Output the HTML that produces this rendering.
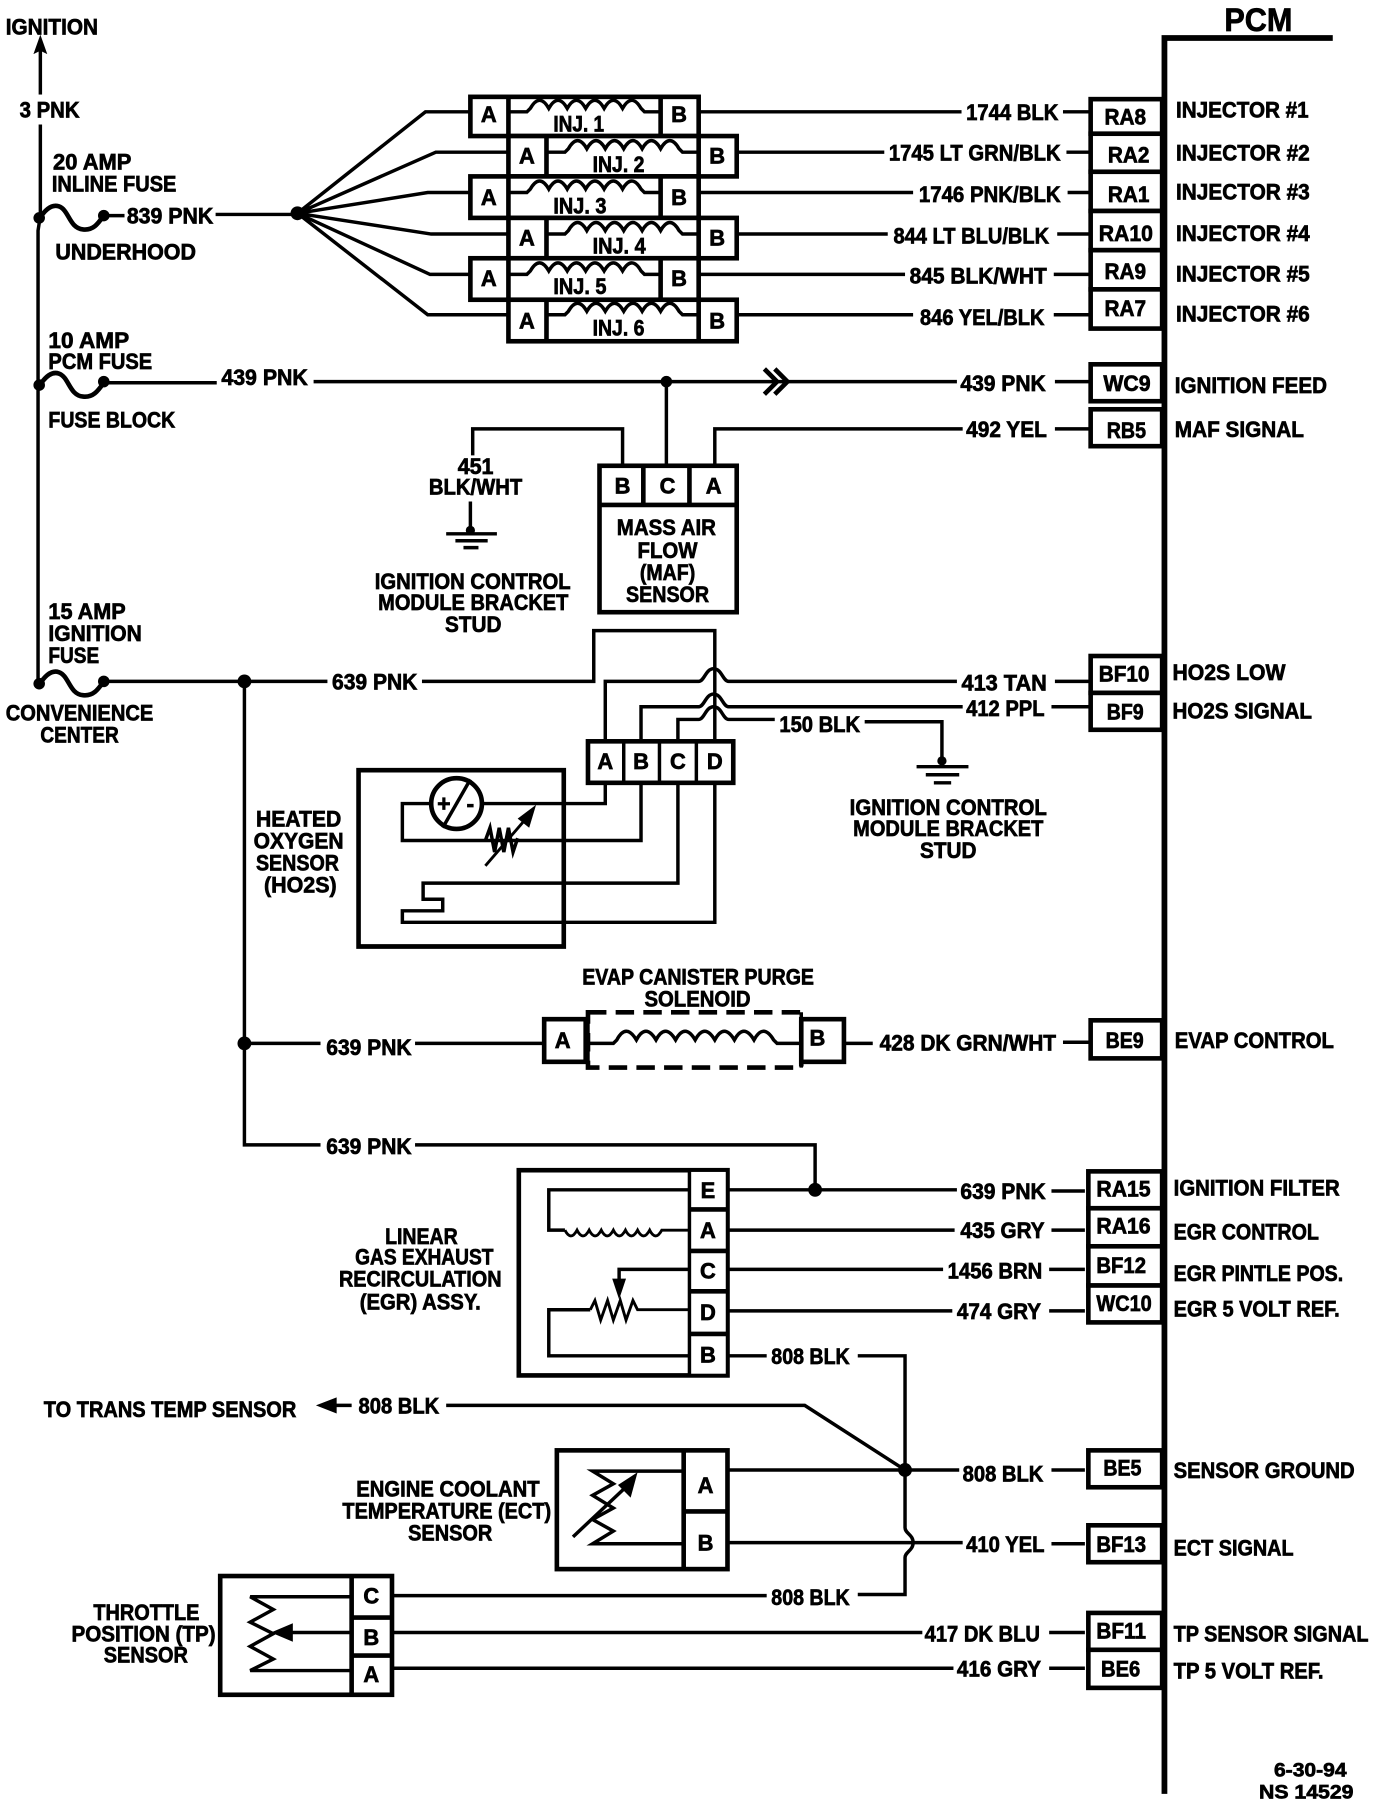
<!DOCTYPE html>
<html><head><meta charset="utf-8"><style>
html,body{margin:0;padding:0;background:#fff}
svg{display:block;width:1376px;height:1808px}
text{font-family:"Liberation Sans",sans-serif;font-weight:700;font-size:19px;fill:#000;stroke:#000;stroke-width:.6}
.m{text-anchor:middle}
.w{fill:none;stroke:#000;stroke-width:3}
.b{fill:#fff;stroke:#000;stroke-width:4}
.t{fill:none;stroke:#000;stroke-width:5}
.d{fill:#000;stroke:none}
</style></head><body>
<svg xmlns="http://www.w3.org/2000/svg" viewBox="0 0 1193.5 1568.2" preserveAspectRatio="none">
<defs>
<path id="coil" class="w" d="M0,0 h15 l3,-3 q8,-14 16,0 q8,-14 16,0 q8,-14 16,0 q8,-14 16,0 q8,-14 16,0 q8,-14 16,0 l3,3 h15"/>
<path id="fuse" class="w" style="stroke-width:4" d="M0,0 c5,-8 11,-13 17,-11 c9,3 9,19 21,20 c9,1 13,-5 18,-12"/>
</defs>

<!-- PCM bus -->
<path class="t" d="M1156,33 H1010 V1556"/>
<text x="1062" y="27" textLength="59" lengthAdjust="spacingAndGlyphs" style="font-size:28px">PCM</text>

<!-- Ignition and left bus -->
<path class="w" d="M35,82 V40"/>
<path class="d" d="M35,30 l6,17 l-6,-3 l-6,3z"/>
<text x="5" y="30" textLength="80" lengthAdjust="spacingAndGlyphs">IGNITION</text>
<text x="17" y="102" textLength="52" lengthAdjust="spacingAndGlyphs">3 PNK</text>
<path class="w" d="M35,108 V187 L33,200 V591"/>
<text x="46" y="147" textLength="68" lengthAdjust="spacingAndGlyphs">20 AMP</text>
<text x="45" y="166" textLength="108" lengthAdjust="spacingAndGlyphs">INLINE FUSE</text>
<use href="#fuse" x="34" y="190"/><circle class="d" cx="34" cy="189" r="5"/><circle class="d" cx="90" cy="187" r="5"/>
<path class="w" d="M90,187 H108"/>
<text x="110" y="194" textLength="75" lengthAdjust="spacingAndGlyphs">839 PNK</text>
<path class="w" d="M187,186 H258"/>
<circle class="d" cx="258" cy="185" r="6"/>
<text x="48" y="225" textLength="122" lengthAdjust="spacingAndGlyphs">UNDERHOOD</text>

<!-- fan -->
<path class="w" d="M258,185 L369,97 H408 M258,185 L378,132 H441 M258,185 L371,167 H408 M258,185 L374,203 H441 M258,185 L373,238 H408 M258,185 L371,273 H441"/>

<!-- injectors -->
<g>
<rect class="b" x="408" y="84" width="198" height="34"/><rect class="b" x="441" y="118" width="198" height="35"/>
<rect class="b" x="408" y="153" width="198" height="36"/><rect class="b" x="441" y="189" width="198" height="35"/>
<rect class="b" x="408" y="224" width="198" height="36"/><rect class="b" x="441" y="260" width="198" height="36"/>
<path class="b" d="M441,84 V118 M573,84 V118 M441,153 V189 M573,153 V189 M441,224 V260 M573,224 V260 M474,118 V153 M606,118 V153 M474,189 V224 M606,189 V224 M474,260 V296 M606,260 V296" style="stroke-width:4;fill:none"/>
</g>
<use href="#coil" x="442" y="97"/><use href="#coil" x="475" y="132"/><use href="#coil" x="442" y="167"/><use href="#coil" x="475" y="203"/><use href="#coil" x="442" y="238"/><use href="#coil" x="475" y="273"/>
<g>
<text class="m" x="424" y="106">A</text><text class="m" x="589" y="106">B</text>
<text class="m" x="457" y="142">A</text><text class="m" x="622" y="142">B</text>
<text class="m" x="424" y="178">A</text><text class="m" x="589" y="178">B</text>
<text class="m" x="457" y="213">A</text><text class="m" x="622" y="213">B</text>
<text class="m" x="424" y="248">A</text><text class="m" x="589" y="248">B</text>
<text class="m" x="457" y="285">A</text><text class="m" x="622" y="285">B</text>
<text x="480" y="114" textLength="44" lengthAdjust="spacingAndGlyphs">INJ. 1</text>
<text x="514" y="149" textLength="45" lengthAdjust="spacingAndGlyphs">INJ. 2</text>
<text x="480" y="185" textLength="46" lengthAdjust="spacingAndGlyphs">INJ. 3</text>
<text x="514" y="220" textLength="46" lengthAdjust="spacingAndGlyphs">INJ. 4</text>
<text x="480" y="255" textLength="46" lengthAdjust="spacingAndGlyphs">INJ. 5</text>
<text x="514" y="291" textLength="45" lengthAdjust="spacingAndGlyphs">INJ. 6</text>
</g>

<!-- injector wires -->
<path class="w" d="M607,97 H834 M922,97 H945 M640,132 H767 M925,132 H945 M607,167 H792 M926,167 H945 M640,203 H770 M917,203 H945 M607,238 H785 M914,238 H945 M640,273 H792 M914,273 H945"/>
<text x="838" y="104" textLength="80" lengthAdjust="spacingAndGlyphs">1744 BLK</text>
<text x="771" y="139" textLength="149" lengthAdjust="spacingAndGlyphs">1745 LT GRN/BLK</text>
<text x="797" y="175" textLength="123" lengthAdjust="spacingAndGlyphs">1746 PNK/BLK</text>
<text x="775" y="211" textLength="135" lengthAdjust="spacingAndGlyphs">844 LT BLU/BLK</text>
<text x="789" y="246" textLength="119" lengthAdjust="spacingAndGlyphs">845 BLK/WHT</text>
<text x="798" y="282" textLength="108" lengthAdjust="spacingAndGlyphs">846 YEL/BLK</text>

<!-- PCM boxes -->
<g>
<rect class="b" x="946" y="86" width="62" height="30"/><rect class="b" x="946" y="116" width="62" height="33"/><rect class="b" x="946" y="149" width="62" height="34"/><rect class="b" x="946" y="183" width="62" height="34"/><rect class="b" x="946" y="217" width="62" height="34"/><rect class="b" x="946" y="251" width="62" height="34"/>
<rect class="b" x="946" y="316" width="62" height="32"/><rect class="b" x="946" y="355" width="62" height="32"/>
<rect class="b" x="946" y="569" width="62" height="32"/><rect class="b" x="946" y="601" width="62" height="32"/>
<rect class="b" x="946" y="885" width="62" height="33"/>
<rect class="b" x="944" y="1016" width="64" height="32"/><rect class="b" x="944" y="1048" width="64" height="33"/><rect class="b" x="944" y="1081" width="64" height="34"/><rect class="b" x="944" y="1115" width="64" height="32"/>
<rect class="b" x="944" y="1258" width="64" height="32"/><rect class="b" x="944" y="1323" width="64" height="32"/>
<rect class="b" x="944" y="1399" width="64" height="32"/><rect class="b" x="944" y="1431" width="64" height="33"/>
</g>
<g>
<text x="958" y="108" textLength="36" lengthAdjust="spacingAndGlyphs">RA8</text>
<text x="961" y="141" textLength="36" lengthAdjust="spacingAndGlyphs">RA2</text>
<text x="961" y="175" textLength="36" lengthAdjust="spacingAndGlyphs">RA1</text>
<text x="953" y="209" textLength="47" lengthAdjust="spacingAndGlyphs">RA10</text>
<text x="958" y="242" textLength="36" lengthAdjust="spacingAndGlyphs">RA9</text>
<text x="958" y="274" textLength="36" lengthAdjust="spacingAndGlyphs">RA7</text>
<text x="957" y="339" textLength="41" lengthAdjust="spacingAndGlyphs">WC9</text>
<text x="960" y="380" textLength="34" lengthAdjust="spacingAndGlyphs">RB5</text>
<text x="953" y="591" textLength="44" lengthAdjust="spacingAndGlyphs">BF10</text>
<text x="960" y="624" textLength="32" lengthAdjust="spacingAndGlyphs">BF9</text>
<text x="959" y="909" textLength="33" lengthAdjust="spacingAndGlyphs">BE9</text>
<text x="951" y="1038" textLength="47" lengthAdjust="spacingAndGlyphs">RA15</text>
<text x="951" y="1070" textLength="47" lengthAdjust="spacingAndGlyphs">RA16</text>
<text x="951" y="1104" textLength="43" lengthAdjust="spacingAndGlyphs">BF12</text>
<text x="951" y="1137" textLength="48" lengthAdjust="spacingAndGlyphs">WC10</text>
<text x="957" y="1280" textLength="33" lengthAdjust="spacingAndGlyphs">BE5</text>
<text x="951" y="1346" textLength="43" lengthAdjust="spacingAndGlyphs">BF13</text>
<text x="951" y="1421" textLength="43" lengthAdjust="spacingAndGlyphs">BF11</text>
<text x="955" y="1454" textLength="34" lengthAdjust="spacingAndGlyphs">BE6</text>
</g>

<!-- PCM labels -->
<g>
<text x="1020" y="102" textLength="115" lengthAdjust="spacingAndGlyphs">INJECTOR #1</text>
<text x="1020" y="139" textLength="116" lengthAdjust="spacingAndGlyphs">INJECTOR #2</text>
<text x="1020" y="173" textLength="116" lengthAdjust="spacingAndGlyphs">INJECTOR #3</text>
<text x="1020" y="209" textLength="116" lengthAdjust="spacingAndGlyphs">INJECTOR #4</text>
<text x="1020" y="244" textLength="116" lengthAdjust="spacingAndGlyphs">INJECTOR #5</text>
<text x="1020" y="279" textLength="116" lengthAdjust="spacingAndGlyphs">INJECTOR #6</text>
<text x="1019" y="341" textLength="132" lengthAdjust="spacingAndGlyphs">IGNITION FEED</text>
<text x="1019" y="379" textLength="112" lengthAdjust="spacingAndGlyphs">MAF SIGNAL</text>
<text x="1017" y="590" textLength="98" lengthAdjust="spacingAndGlyphs">HO2S LOW</text>
<text x="1017" y="623" textLength="121" lengthAdjust="spacingAndGlyphs">HO2S SIGNAL</text>
<text x="1019" y="909" textLength="138" lengthAdjust="spacingAndGlyphs">EVAP CONTROL</text>
<text x="1018" y="1037" textLength="144" lengthAdjust="spacingAndGlyphs">IGNITION FILTER</text>
<text x="1018" y="1075" textLength="126" lengthAdjust="spacingAndGlyphs">EGR CONTROL</text>
<text x="1018" y="1111" textLength="147" lengthAdjust="spacingAndGlyphs">EGR PINTLE POS.</text>
<text x="1018" y="1142" textLength="144" lengthAdjust="spacingAndGlyphs">EGR 5 VOLT REF.</text>
<text x="1018" y="1282" textLength="157" lengthAdjust="spacingAndGlyphs">SENSOR GROUND</text>
<text x="1018" y="1349" textLength="104" lengthAdjust="spacingAndGlyphs">ECT SIGNAL</text>
<text x="1018" y="1424" textLength="169" lengthAdjust="spacingAndGlyphs">TP SENSOR SIGNAL</text>
<text x="1018" y="1456" textLength="130" lengthAdjust="spacingAndGlyphs">TP 5 VOLT REF.</text>
<text x="1105" y="1541" textLength="63" lengthAdjust="spacingAndGlyphs" style="font-size:17px">6-30-94</text>
<text x="1092" y="1560" textLength="82" lengthAdjust="spacingAndGlyphs" style="font-size:17px">NS 14529</text>
</g>

<!-- 439 PNK -->
<text x="42" y="302" textLength="70" lengthAdjust="spacingAndGlyphs">10 AMP</text>
<text x="42" y="320" textLength="90" lengthAdjust="spacingAndGlyphs">PCM FUSE</text>
<use href="#fuse" x="34" y="335"/><circle class="d" cx="34" cy="334" r="5"/><circle class="d" cx="90" cy="331" r="5"/>
<path class="w" d="M90,332 H188 M272,331 H830 M915,331 H945"/>
<text x="192" y="334" textLength="75" lengthAdjust="spacingAndGlyphs">439 PNK</text>
<text x="833" y="339" textLength="74" lengthAdjust="spacingAndGlyphs">439 PNK</text>
<text x="42" y="371" textLength="110" lengthAdjust="spacingAndGlyphs">FUSE BLOCK</text>
<circle class="d" cx="578" cy="331" r="5"/>
<path class="w" style="stroke-width:4" d="M663,320 L674,331 L663,342 M672,320 L683,331 L672,342"/>

<!-- MAF -->
<text x="838" y="379" textLength="70" lengthAdjust="spacingAndGlyphs">492 YEL</text>
<path class="w" d="M578,331 V402 M620,402 V372 H835 M915,372 H945 M540,402 V372 H410 V395"/>
<rect class="b" x="520" y="404" width="119" height="127"/>
<path class="w" style="stroke-width:4" d="M520,438 H639 M558,404 V438 M598,404 V438"/>
<text class="m" x="540" y="428">B</text><text class="m" x="579" y="428">C</text><text class="m" x="619" y="428">A</text>
<text class="m" x="578" y="464" textLength="86" lengthAdjust="spacingAndGlyphs">MASS AIR</text>
<text class="m" x="579" y="484" textLength="52" lengthAdjust="spacingAndGlyphs">FLOW</text>
<text class="m" x="579" y="503" textLength="48" lengthAdjust="spacingAndGlyphs">(MAF)</text>
<text class="m" x="579" y="522" textLength="72" lengthAdjust="spacingAndGlyphs">SENSOR</text>
<text x="397" y="411" textLength="31" lengthAdjust="spacingAndGlyphs">451</text>
<text x="372" y="429" textLength="81" lengthAdjust="spacingAndGlyphs">BLK/WHT</text>
<path class="w" d="M408,435 V459 M387,463 H431 M395,469 H423 M402,475 H415"/>
<circle class="d" cx="408" cy="460" r="4"/>
<text x="325" y="511" textLength="170" lengthAdjust="spacingAndGlyphs">IGNITION CONTROL</text>
<text x="328" y="529" textLength="165" lengthAdjust="spacingAndGlyphs">MODULE BRACKET</text>
<text x="386" y="548" textLength="49" lengthAdjust="spacingAndGlyphs">STUD</text>

<!-- 639 PNK / HO2S -->
<text x="42" y="537" textLength="67" lengthAdjust="spacingAndGlyphs">15 AMP</text>
<text x="42" y="556" textLength="81" lengthAdjust="spacingAndGlyphs">IGNITION</text>
<text x="42" y="575" textLength="44" lengthAdjust="spacingAndGlyphs">FUSE</text>
<use href="#fuse" x="34" y="594"/><circle class="d" cx="34" cy="593" r="5"/><circle class="d" cx="90" cy="591" r="5"/>
<text x="5" y="625" textLength="128" lengthAdjust="spacingAndGlyphs">CONVENIENCE</text>
<text x="35" y="644" textLength="68" lengthAdjust="spacingAndGlyphs">CENTER</text>
<path class="w" d="M90,591 H284 M366,591 H515 V547 H620 V641 M212,591 V993 H278 M212,905 H278"/>
<circle class="d" cx="212" cy="591" r="6"/><circle class="d" cx="212" cy="905" r="6"/>
<text x="288" y="598" textLength="74" lengthAdjust="spacingAndGlyphs">639 PNK</text>
<path class="w" d="M525,641 V591 H606 c5,0 6,-11 13,-11 c7,0 8,11 13,11 H830 M915,591 H945"/>
<path class="w" d="M556,641 V613 H606 c5,0 6,-11 13,-11 c7,0 8,11 13,11 H835 M912,613 H945"/>
<path class="w" d="M588,641 V624 H606 c5,0 6,-11 13,-11 c7,0 8,11 13,11 H672 M750,626 H817 V658"/>
<text x="834" y="599" textLength="74" lengthAdjust="spacingAndGlyphs">413 TAN</text>
<text x="838" y="621" textLength="68" lengthAdjust="spacingAndGlyphs">412 PPL</text>
<text x="676" y="635" textLength="70" lengthAdjust="spacingAndGlyphs">150 BLK</text>
<circle class="d" cx="817" cy="660" r="4"/>
<path class="w" d="M795,665 H840 M803,672 H832 M810,679 H825"/>
<text x="737" y="707" textLength="171" lengthAdjust="spacingAndGlyphs">IGNITION CONTROL</text>
<text x="740" y="725" textLength="165" lengthAdjust="spacingAndGlyphs">MODULE BRACKET</text>
<text x="798" y="744" textLength="49" lengthAdjust="spacingAndGlyphs">STUD</text>
<rect class="b" x="510" y="643" width="126" height="36"/>
<path class="w" style="stroke-width:3" d="M541,643 V679 M572,643 V679 M604,643 V679"/>
<text class="m" x="525" y="667">A</text><text class="m" x="556" y="667">B</text><text class="m" x="588" y="667">C</text><text class="m" x="620" y="667">D</text>
<path class="t" style="stroke-width:4" d="M311,821 V668 H489 V821 Z"/>
<path class="t" style="stroke-width:2" d="M311,820 H489"/>
<path class="w" d="M419,697 H525 V680 M373,697 H349 V729 H556 V680 M588,680 V766 H367 V780 H384 V790 H349 V800 H620 V680"/>
<circle cx="396" cy="697" r="22" fill="#fff" stroke="#000" stroke-width="4"/>
<path class="w" d="M384,718 L408,676"/>
<text class="m" x="385" y="704" style="font-size:20px">+</text><text class="m" x="408" y="704" style="font-size:20px">-</text>
<path class="w" d="M421,729 l4,-11 l4,21 l4,-21 l4,21 l4,-21 l4,21 l4,-12"/>
<path class="w" style="stroke-width:2.5" d="M421,751 L458,708"/>
<path class="d" d="M465,698 L449,710 L459,718 z"/>
<text x="222" y="717" textLength="74" lengthAdjust="spacingAndGlyphs">HEATED</text>
<text x="220" y="736" textLength="78" lengthAdjust="spacingAndGlyphs">OXYGEN</text>
<text x="222" y="755" textLength="72" lengthAdjust="spacingAndGlyphs">SENSOR</text>
<text x="229" y="774" textLength="63" lengthAdjust="spacingAndGlyphs">(HO2S)</text>

<!-- EVAP -->
<text x="505" y="854" textLength="201" lengthAdjust="spacingAndGlyphs">EVAP CANISTER PURGE</text>
<text x="559" y="873" textLength="92" lengthAdjust="spacingAndGlyphs">SOLENOID</text>
<rect x="510" y="878" width="185" height="48" fill="none" stroke="#000" stroke-width="4" stroke-dasharray="16,8"/>
<path class="w" d="M510,878 V926 M695,878 V926"/>
<path class="w" d="M510,905 h22 l3,-3 q8,-15 17,0 q8,-15 17,0 q8,-15 17,0 q8,-15 17,0 q8,-15 17,0 q8,-15 17,0 q8,-15 17,0 q8,-15 17,0 l3,3 h21"/>
<rect class="b" x="472" y="884" width="36" height="37"/><rect class="b" x="695" y="884" width="37" height="37"/>
<text class="m" x="488" y="909">A</text><text class="m" x="709" y="907">B</text>
<path class="w" d="M360,905 H472 M733,905 H757 M922,904 H945"/>
<text x="283" y="915" textLength="74" lengthAdjust="spacingAndGlyphs">639 PNK</text>
<text x="763" y="911" textLength="153" lengthAdjust="spacingAndGlyphs">428 DK GRN/WHT</text>

<!-- 639 to EGR -->
<text x="283" y="1001" textLength="74" lengthAdjust="spacingAndGlyphs">639 PNK</text>
<path class="w" d="M360,993 H707 V1032"/>
<circle class="d" cx="707" cy="1032" r="6"/>
<rect class="b" x="450" y="1015" width="181" height="178"/>
<rect class="b" x="598" y="1015" width="33" height="178" style="stroke-width:3"/>
<path class="w" style="stroke-width:4" d="M598,1049 H631 M598,1085 H631 M598,1120 H631 M598,1157 H631"/>
<text class="m" x="614" y="1039">E</text><text class="m" x="614" y="1074">A</text><text class="m" x="614" y="1109">C</text><text class="m" x="614" y="1145">D</text><text class="m" x="614" y="1182">B</text>
<path class="w" d="M598,1032 H476 V1067 H490"/>
<path class="w" style="stroke-width:2.5" d="M490,1067 q5,10 10.5,0 q5,10 10.5,0 q5,10 10.5,0 q5,10 10.5,0 q5,10 10.5,0 q5,10 10.5,0 q5,10 10.5,0 q5,10 10.5,0 H598"/>
<path class="w" d="M598,1101 H537 V1118"/>
<path class="d" d="M537,1127 L531,1109 H543 z"/>
<path class="w" d="M598,1176 H476 V1136 H512"/>
<path class="w" style="stroke-width:2.5" d="M512,1136 l4,-8 l5,17 l6,-17 l5,17 l6,-17 l5,17 l6,-17 l4,8 h45"/>
<path class="w" d="M632,1032 H830 M912,1033 H941 M632,1067 H828 M912,1067 H941 M632,1101 H818 M910,1101 H941 M632,1137 H826 M910,1137 H941 M632,1176 H665 M744,1176 H785 V1325 c0,5 7,6 7,13 c0,7 -7,8 -7,13 V1383 H744 M632,1275 H832 M912,1275 H941 M632,1338 H835 M912,1339 H941"/>
<text x="833" y="1040" textLength="74" lengthAdjust="spacingAndGlyphs">639 PNK</text>
<text x="833" y="1074" textLength="73" lengthAdjust="spacingAndGlyphs">435 GRY</text>
<text x="822" y="1109" textLength="82" lengthAdjust="spacingAndGlyphs">1456 BRN</text>
<text x="830" y="1144" textLength="73" lengthAdjust="spacingAndGlyphs">474 GRY</text>
<text x="669" y="1183" textLength="68" lengthAdjust="spacingAndGlyphs">808 BLK</text>
<text x="334" y="1079" textLength="63" lengthAdjust="spacingAndGlyphs">LINEAR</text>
<text x="308" y="1097" textLength="120" lengthAdjust="spacingAndGlyphs">GAS EXHAUST</text>
<text x="294" y="1116" textLength="141" lengthAdjust="spacingAndGlyphs">RECIRCULATION</text>
<text x="312" y="1136" textLength="105" lengthAdjust="spacingAndGlyphs">(EGR) ASSY.</text>

<!-- 808 BLK branch -->
<text x="38" y="1229" textLength="219" lengthAdjust="spacingAndGlyphs">TO TRANS TEMP SENSOR</text>
<path class="d" d="M274,1219 L292,1212 V1226 z"/>
<path class="w" d="M285,1219 H305 M387,1219 H698 L785,1275"/>
<text x="311" y="1226" textLength="70" lengthAdjust="spacingAndGlyphs">808 BLK</text>
<circle class="d" cx="785" cy="1275" r="6"/>
<text x="835" y="1285" textLength="70" lengthAdjust="spacingAndGlyphs">808 BLK</text>
<text x="838" y="1346" textLength="68" lengthAdjust="spacingAndGlyphs">410 YEL</text>

<!-- ECT -->
<rect class="b" x="483" y="1258" width="148" height="103"/>
<path class="w" style="stroke-width:4" d="M593,1258 V1361 M593,1311 H631"/>
<text class="m" x="612" y="1295">A</text><text class="m" x="612" y="1345">B</text>
<path class="w" d="M593,1276 H514 L532,1287 L514,1297 L532,1308 L514,1318 L532,1328 L514,1339 H593"/>
<path class="w" d="M497,1333 L548,1285"/>
<path class="d" d="M553,1277 L536,1288 L547,1299 z"/>
<text x="309" y="1298" textLength="159" lengthAdjust="spacingAndGlyphs">ENGINE COOLANT</text>
<text x="297" y="1317" textLength="181" lengthAdjust="spacingAndGlyphs">TEMPERATURE (ECT)</text>
<text x="354" y="1336" textLength="73" lengthAdjust="spacingAndGlyphs">SENSOR</text>

<!-- TP -->
<rect class="b" x="191" y="1367" width="149" height="103"/>
<path class="w" style="stroke-width:4" d="M305,1367 V1470 M305,1403 H340 M305,1436 H340"/>
<text class="m" x="322" y="1391">C</text><text class="m" x="322" y="1427">B</text><text class="m" x="322" y="1459">A</text>
<path class="w" d="M305,1385 H217 L237,1396 L217,1407 L237,1417 L217,1428 L237,1439 L217,1449 H305"/>
<path class="w" d="M248,1416 H305"/>
<path class="d" d="M235,1416 L254,1408 V1424 z"/>
<path class="w" d="M341,1384 H665 M341,1416 H800 M910,1416 H941 M341,1447 H827 M910,1447 H941"/>
<text x="669" y="1392" textLength="68" lengthAdjust="spacingAndGlyphs">808 BLK</text>
<text x="802" y="1424" textLength="100" lengthAdjust="spacingAndGlyphs">417 DK BLU</text>
<text x="830" y="1454" textLength="73" lengthAdjust="spacingAndGlyphs">416 GRY</text>
<text x="81" y="1405" textLength="92" lengthAdjust="spacingAndGlyphs">THROTTLE</text>
<text x="62" y="1424" textLength="125" lengthAdjust="spacingAndGlyphs">POSITION (TP)</text>
<text x="90" y="1442" textLength="73" lengthAdjust="spacingAndGlyphs">SENSOR</text>
</svg>
</body></html>
